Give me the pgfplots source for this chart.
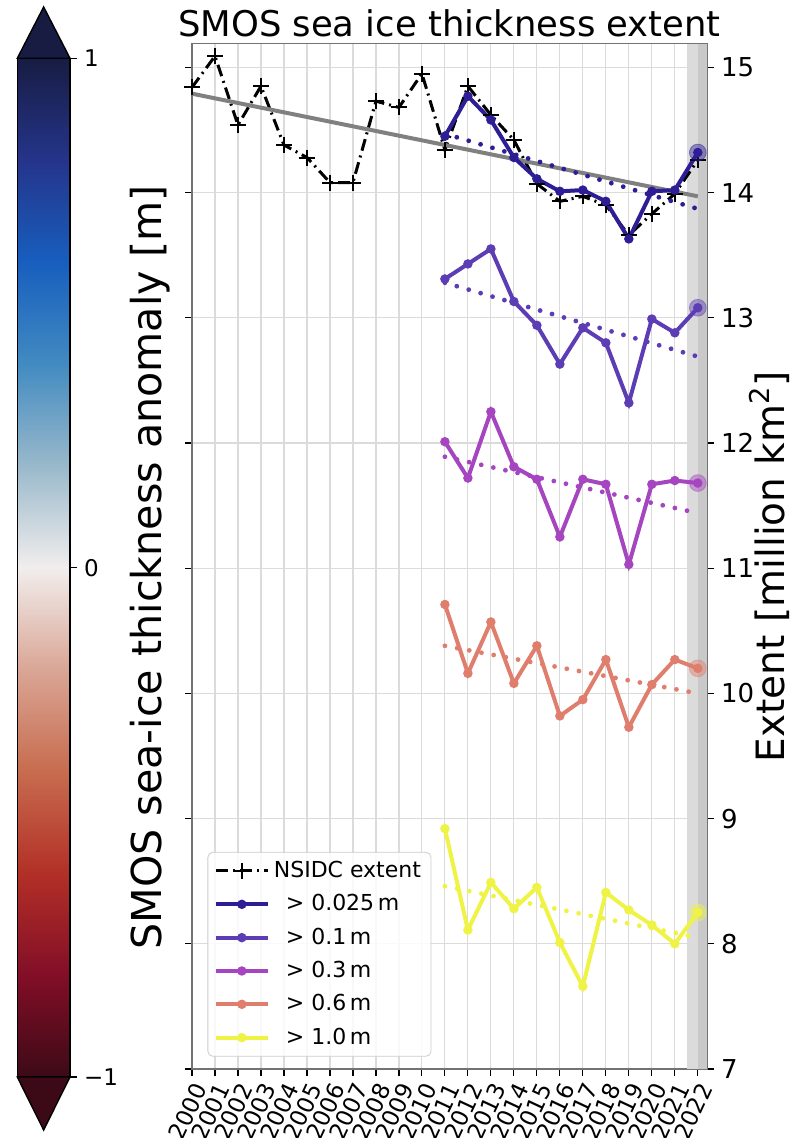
\documentclass[border=0pt]{standalone}
\usepackage{pgfplots}
\pgfplotsset{compat=1.18}
\usepackage{fontspec}
\setmainfont{DejaVu Sans}
\definecolor{c1}{HTML}{2D1E96}
\definecolor{c2}{HTML}{5D3DB3}
\definecolor{c3}{HTML}{A545C0}
\definecolor{c4}{HTML}{E07E6E}
\definecolor{c5}{HTML}{EEF345}
\definecolor{cbtop}{rgb}{0.0932,0.1112,0.2615}
\definecolor{cbbot}{rgb}{0.2372,0.0396,0.0896}
\pgfplotsset{colormap={balr}{
 rgb=(0.2372,0.0396,0.0896) rgb=(0.5110,0.0545,0.1530) rgb=(0.6997,0.1869,0.1523)
 rgb=(0.7810,0.4237,0.3066) rgb=(0.8535,0.6504,0.5869) rgb=(0.9456,0.9309,0.9293)
 rgb=(0.6007,0.7246,0.7950) rgb=(0.2566,0.5438,0.7574) rgb=(0.0910,0.3700,0.7458)
 rgb=(0.1450,0.2044,0.5434) rgb=(0.0932,0.1112,0.2615)}}
\pgfplotstableread{
year ext
2000 14.84
2001 15.09
2002 14.54
2003 14.85
2004 14.38
2005 14.28
2006 14.08
2007 14.08
2008 14.73
2009 14.68
2010 14.95
2011 14.34
2012 14.85
2013 14.62
2014 14.42
2015 14.07
2016 13.93
2017 13.97
2018 13.90
2019 13.66
2020 13.83
2021 13.99
2022 14.26
}\nsidc
\pgfplotstableread{
year a b c d e
2011 14.45 13.31 12.01 10.71 8.92
2012 14.77 13.43 11.72 10.16 8.11
2013 14.58 13.55 12.25 10.57 8.49
2014 14.28 13.13 11.81 10.08 8.28
2015 14.11 12.94 11.71 10.38 8.45
2016 14.01 12.63 11.25 9.82 8.01
2017 14.02 12.92 11.71 9.95 7.66
2018 13.93 12.80 11.67 10.27 8.41
2019 13.63 12.32 11.03 9.73 8.27
2020 14.01 12.99 11.67 10.07 8.15
2021 14.02 12.88 11.70 10.27 8.00
2022 14.32 13.08 11.68 10.20 8.25
}\smos
\begin{document}
\begin{tikzpicture}
\useasboundingbox (0,0) rectangle (398pt,569pt);
\begin{axis}[
  at={(96pt,34.5pt)}, anchor=south west,
  scale only axis, width=257.5pt, height=512.7pt,
  xmin=2000, xmax=2022.4, ymin=7, ymax=15.19,
  xtick={2000,...,2022}, ytick={7,...,15},
  /pgf/number format/assume math mode=true,
  /pgf/number format/1000 sep={},
  xtick pos=bottom, ytick pos=both, yticklabel pos=right,
  tick align=outside, major tick length=3.5pt,
  tick style={black, line width=0.6pt},
  grid=major, grid style={draw=gray!28, line width=0.6pt},
  axis line style={draw=black!55, line width=0.6pt},
  x tick label style={xshift=4.5pt, yshift=-3.5pt, rotate=65, anchor=east, font=\fontsize{11.5}{11.5}\selectfont, inner sep=1pt},
  y tick label style={font=\fontsize{13}{15}\selectfont},
  title={SMOS sea ice thickness extent},
  title style={font=\fontsize{17.7}{20}\selectfont, at={(0.5,1)}, anchor=base, yshift=-2.5pt},
  ylabel={Extent [million km\textsuperscript{2}]},
  ylabel style={font=\fontsize{19.5}{22}\selectfont, at={(axis description cs:1.122,0.49)}, anchor=center},
  point meta min=-1, point meta max=1, colormap name=balr,
  colorbar left,
  colorbar/width=26.35pt,
  colorbar style={name=cb, at={(parent axis.south west)}, anchor=south west,
    xshift=-78.814pt, yshift=-4pt, scale only axis, height=509.35pt,
    ytick={-1,0,1}, yticklabels={−1,0,1}, yticklabel pos=right, ytick pos=right,
    tick align=outside, major tick length=3.5pt, tick style={black, line width=0.6pt},
    yticklabel style={font=\fontsize{11.5}{13}\selectfont},
    axis line style={draw=black, line width=0.7pt},
    ylabel={SMOS sea-ice thickness anomaly [m]},
    ylabel style={font=\fontsize{20.6}{24}\selectfont, at={(axis description cs:2.52,0.5)}, anchor=center}},
  legend style={at={(0.03,0.012)}, anchor=south west, draw=gray!40, rounded corners=2.5pt,
    fill=white, fill opacity=0.85, text opacity=1, font=\fontsize{11}{13}\selectfont,
    inner xsep=3pt, inner ysep=2.5pt, row sep=3pt},
  legend cell align=left,
  legend image code/.code={\draw[mark repeat=2,mark phase=2] plot coordinates {(0pt,0pt)(13pt,0pt)(26pt,0pt)};},
]
% grey band
\addplot[draw=none, fill=gray!28, forget plot] coordinates {(2021.55,15.19) (2022.4,15.19)} \closedcycle;
\addplot[draw=none, fill=gray!42, forget plot] coordinates {(2022.0,15.19) (2022.4,15.19)} \closedcycle;
% NSIDC
\addplot[black, line width=1.5pt, dash pattern=on 6pt off 2.5pt on 1pt off 2.5pt, mark=+, mark size=4pt, mark options={solid, line width=1pt}] table[x=year, y=ext] {\nsidc};
\addlegendentry{NSIDC extent}
\addplot[gray, line width=2pt, forget plot] coordinates {(2000,14.79) (2022,13.97)};
% SMOS series
\addplot[c1, line width=2pt, mark=*, mark size=1.3pt] table[x=year, y=a] {\smos};
\addlegendentry{\hspace{6pt}> 0.025\,m}
\addplot[c2, line width=2pt, mark=*, mark size=1.3pt] table[x=year, y=b] {\smos};
\addlegendentry{\hspace{6pt}> 0.1\,m}
\addplot[c3, line width=2pt, mark=*, mark size=1.3pt] table[x=year, y=c] {\smos};
\addlegendentry{\hspace{6pt}> 0.3\,m}
\addplot[c4, line width=2pt, mark=*, mark size=1.3pt] table[x=year, y=d] {\smos};
\addlegendentry{\hspace{6pt}> 0.6\,m}
\addplot[c5, line width=2pt, mark=*, mark size=1.3pt] table[x=year, y=e] {\smos};
\addlegendentry{\hspace{6pt}> 1.0\,m}
% trends
\addplot[c1, line width=2.4pt, line cap=round, dash pattern=on 0pt off 6.2pt, forget plot] coordinates {(2011,14.47) (2022,13.87)};
\addplot[c2, line width=2.4pt, line cap=round, dash pattern=on 0pt off 6.2pt, forget plot] coordinates {(2011,13.28) (2022,12.69)};
\addplot[c3, line width=2.4pt, line cap=round, dash pattern=on 0pt off 6.2pt, forget plot] coordinates {(2011,11.89) (2022,11.44)};
\addplot[c4, line width=2.4pt, line cap=round, dash pattern=on 0pt off 6.2pt, forget plot] coordinates {(2011,10.38) (2022,10.00)};
\addplot[c5, line width=2.4pt, line cap=round, dash pattern=on 0pt off 6.2pt, forget plot] coordinates {(2011,8.46) (2022,8.05)};
% highlighted 2022 values
\addplot[only marks, mark=*, mark size=4.2pt, c1, opacity=0.45, forget plot] coordinates {(2022,14.32)};
\addplot[only marks, mark=*, mark size=4.2pt, c2, opacity=0.45, forget plot] coordinates {(2022,13.08)};
\addplot[only marks, mark=*, mark size=4.2pt, c3, opacity=0.45, forget plot] coordinates {(2022,11.68)};
\addplot[only marks, mark=*, mark size=4.2pt, c4, opacity=0.45, forget plot] coordinates {(2022,10.20)};
\addplot[only marks, mark=*, mark size=4.2pt, c5, opacity=0.45, forget plot] coordinates {(2022,8.25)};
\end{axis}
\fill[cbtop, draw=black, line width=0.7pt] (cb.north west) -- ([yshift=25.65pt]cb.north) -- (cb.north east) -- cycle;
\fill[cbbot, draw=black, line width=0.7pt] (cb.south west) -- ([yshift=-26.5pt]cb.south) -- (cb.south east) -- cycle;
\end{tikzpicture}
\end{document}
